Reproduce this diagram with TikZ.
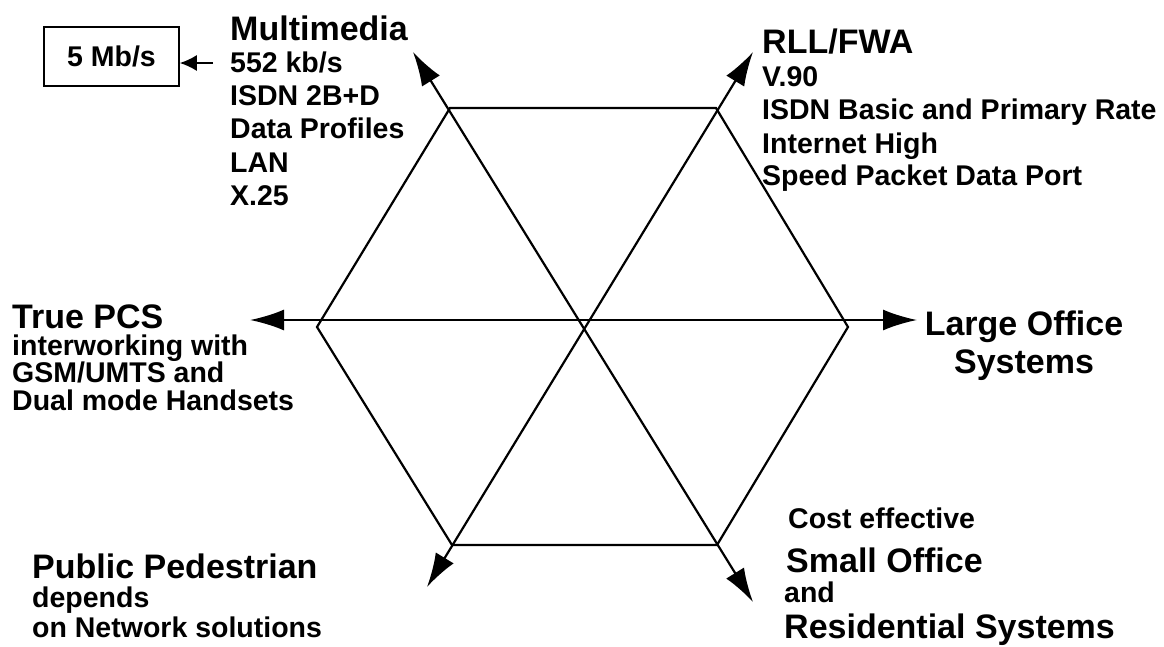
\documentclass[tikz,border=0pt]{standalone}
\usepackage{fontspec}
\setmainfont{Liberation Sans}
\usetikzlibrary{arrows.meta}

\begin{document}
\begin{tikzpicture}[x=1pt, y=-1pt,
    title/.style={font=\fontsize{34}{34}\selectfont\bfseries, anchor=base west, inner sep=0pt},
    sub/.style={font=\fontsize{28.5}{28.5}\selectfont\bfseries, anchor=base west, inner sep=0pt},
    axis/.style={line width=2.2pt, {Latex[length=34pt,width=21pt]}-{Latex[length=34pt,width=21pt]}},
    hexline/.style={line width=2.2pt, line join=miter}]

        \useasboundingbox (0,0) rectangle (1164,646);

        % Corners of the hexagon
        \coordinate (hl) at (317,327);
        \coordinate (htl) at (450,108);
        \coordinate (htr) at (716,108);
        \coordinate (hr) at (848,327);
        \coordinate (hbr) at (717,545);
        \coordinate (hbl) at (452,545);
        \draw[hexline] (hl) -- (htl) -- (htr) -- (hr) -- (hbr) -- (hbl) -- cycle;

        % Ends of the three axes
        \coordinate (pcs) at (250,320);
        \coordinate (large) at (917,320);
        \coordinate (multi) at (413,52);
        \coordinate (small) at (753,602);
        \coordinate (rll) at (753,52);
        \coordinate (public) at (427,587);
        \draw[axis] (pcs) -- (large);
        \draw[axis] (multi) -- (small);
        \draw[axis] (rll) -- (public);

        % Multimedia
        \node[title] (mmtitle) at (230,40) {Multimedia};
        \node[sub] (mm1) at (230,72) {552 kb/s};
        \node[sub] (mm2) at (230,105) {ISDN 2B+D};
        \node[sub] (mm3) at (230,138) {Data Profiles};
        \node[sub] (mm4) at (230,172) {LAN};
        \node[sub] (mm5) at (230,205) {X.25};
        \node[sub, anchor=center, draw, line width=1.6pt, minimum width=135pt, minimum height=59pt] (mbs) at (111.5,56.5) {5 Mb/s};
        \coordinate (mbtail) at (213,63);
        \draw[line width=1.6pt, -{Latex[length=17pt,width=16pt]}] (mbtail) -- (mbtail -| mbs.east);

        % RLL/FWA
        \node[title] (rlltitle) at (762,53) {RLL/FWA};
        \node[sub] (rll1) at (762,86) {V.90};
        \node[sub] (rll2) at (762,119) {ISDN Basic and Primary Rate};
        \node[sub] (rll3) at (762,153) {Internet High};
        \node[sub] (rll4) at (762,185) {Speed Packet Data Port};

        % True PCS
        \node[title] (pcstitle) at (12,328) {True PCS};
        \node[sub] (pcs1) at (12,355) {interworking with};
        \node[sub] (pcs2) at (12,382) {GSM/UMTS and};
        \node[sub] (pcs3) at (12,410) {Dual mode Handsets};

        % Large Office
        \node[title, anchor=base] (lo1) at (1024,335) {Large Office};
        \node[title, anchor=base] (lo2) at (1024,373) {Systems};

        % Public Pedestrian
        \node[title] (pptitle) at (32,578) {Public Pedestrian};
        \node[sub] (pp1) at (32,607) {depends};
        \node[sub] (pp2) at (32,637) {on Network solutions};

        % Small Office
        \node[sub] (so1) at (788,528) {Cost effective};
        \node[title] (so2) at (786,572) {Small Office};
        \node[sub] (so3) at (784,602) {and};
        \node[title] (so4) at (784,638) {Residential Systems};

    \end{tikzpicture}
\end{document}
